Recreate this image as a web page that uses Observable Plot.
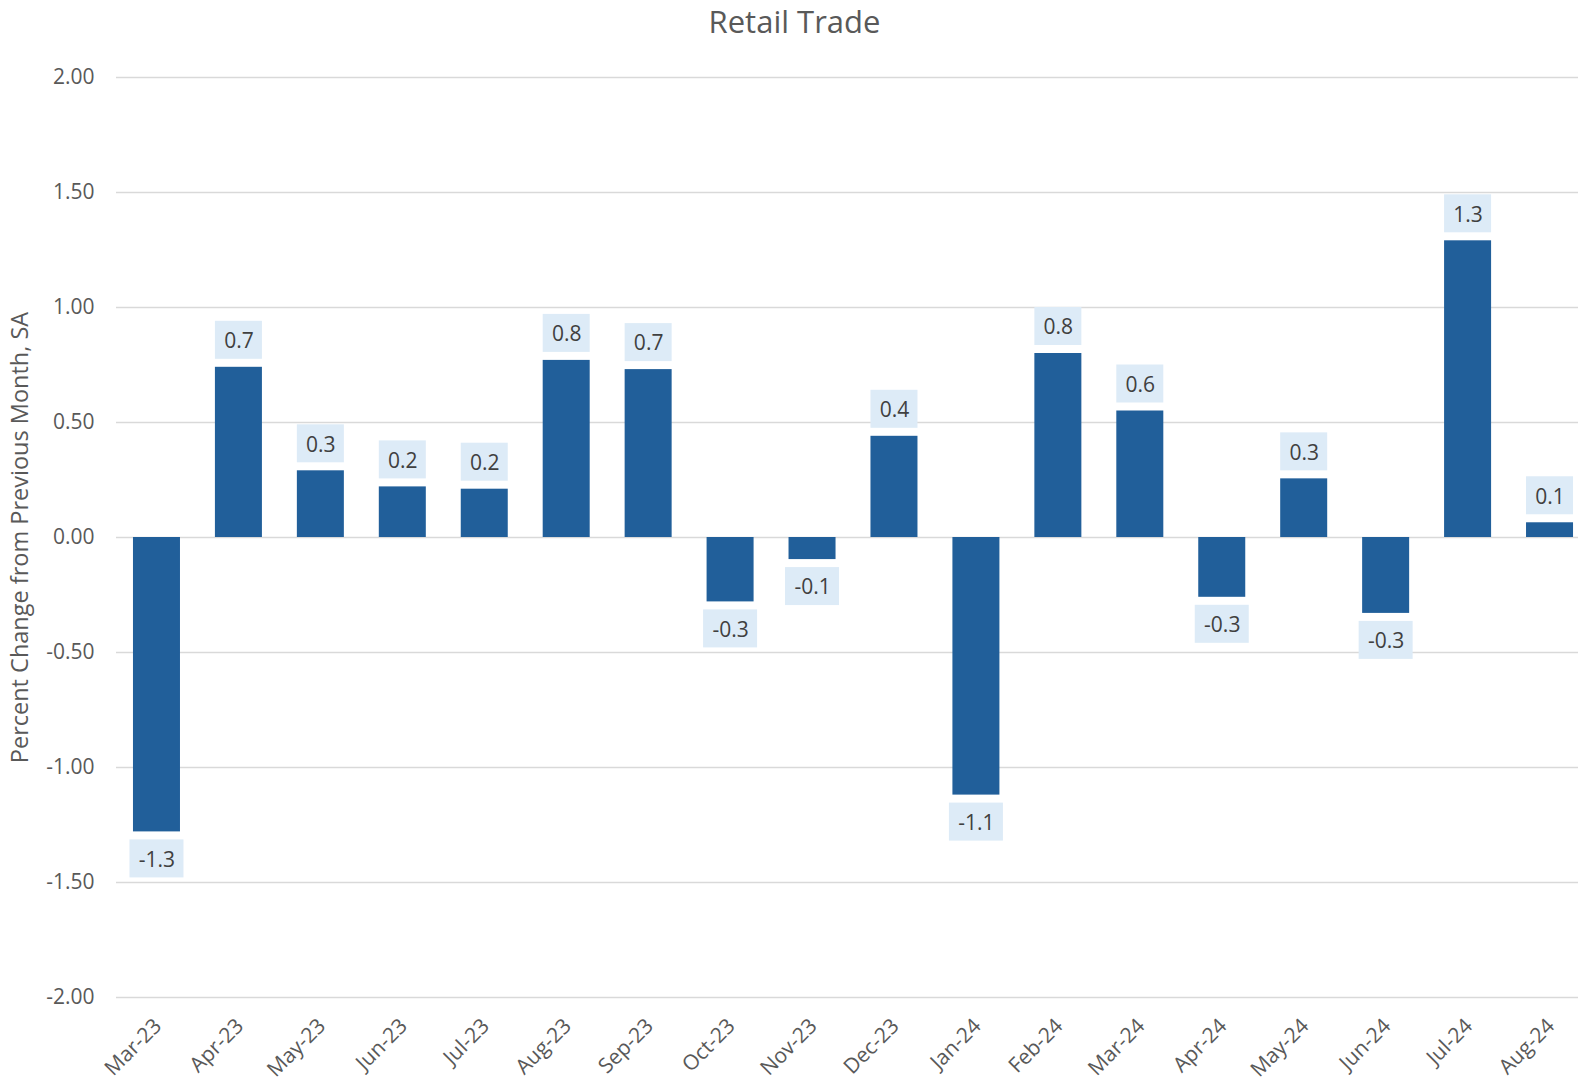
<!DOCTYPE html>
<html>
<head>
<meta charset="utf-8">
<script src="https://cdn.jsdelivr.net/npm/d3@7"></script>
<script src="https://cdn.jsdelivr.net/npm/@observablehq/plot@0.6"></script>
<style>
  html, body { margin: 0; padding: 0; background: #fff; }
  #title { width: 1578px; height: 46px; line-height: 42px; box-sizing: border-box; padding-left: 11px;
    text-align: center; font-family: "Open Sans", sans-serif; font-size: 31px; color: #595959; }
  #chart svg { display: block; }
</style>
</head>
<body>
<div id="title">Retail Trade</div>
<div id="chart"></div>
<script>
const months = ["Mar-23","Apr-23","May-23","Jun-23","Jul-23","Aug-23","Sep-23","Oct-23","Nov-23","Dec-23","Jan-24","Feb-24","Mar-24","Apr-24","May-24","Jun-24","Jul-24","Aug-24"];
const changes = [-1.28, 0.74, 0.29, 0.22, 0.21, 0.77, 0.73, -0.28, -0.096, 0.44, -1.12, 0.80, 0.55, -0.26, 0.255, -0.33, 1.29, 0.064];
const yTicks = [-2, -1.5, -1, -0.5, 0, 0.5, 1, 1.5, 2];
const yLabel = "Percent Change from Previous Month, SA";

const data = months.map((m, i) => ({month: m, value: changes[i], label: changes[i].toFixed(1)}));
const pos = data.filter(d => d.value >= 0);
const neg = data.filter(d => d.value < 0);

const chart = Plot.plot({
  width: 1578,
  height: 1036,
  marginTop: 31,
  marginBottom: 85,
  marginLeft: 116,
  marginRight: 0,
  style: {fontFamily: "Open Sans, sans-serif", background: "#fff"},
  x: {domain: months, range: [115.5, 1590.5], paddingInner: 0.4264, paddingOuter: 0.2132, align: 0.5, round: false},
  y: {domain: [-2, 2]},
  marks: [
    Plot.gridY(yTicks, {stroke: "#d9d9d9", strokeOpacity: 1, strokeWidth: 1.6}),
    Plot.barY(data, {x: "month", y: "value", fill: "#215f9a"}),
    Plot.barY(pos, {x: "month", y1: "value", y2: "value", fill: "#ddebf7", insetTop: -46, insetBottom: 8}),
    Plot.barY(neg, {x: "month", y1: "value", y2: "value", fill: "#ddebf7", insetTop: 8, insetBottom: -46, insetLeft: -3.5, insetRight: -3.5}),
    Plot.text(pos, {x: "month", y: "value", text: "label", dy: -26, fontSize: 21, fill: "#404040"}),
    Plot.text(neg, {x: "month", y: "value", text: "label", dy: 28, fontSize: 21, fill: "#404040"}),
    Plot.axisY(yTicks, {tickFormat: d => d.toFixed(2), tickSize: 0, tickPadding: 22, fontSize: 21, color: "#595959", label: null}),
    Plot.axisX({tickRotate: -45, tickSize: 0, tickPadding: 25, dx: 1, fontSize: 21, color: "#595959", label: null}),
    Plot.text([yLabel], {frameAnchor: "left", textAnchor: "middle", rotate: -90, dx: -96, dy: 0, fontSize: 23.5, fill: "#595959"})
  ]
});
document.getElementById("chart").appendChild(chart);
</script>
</body>
</html>
